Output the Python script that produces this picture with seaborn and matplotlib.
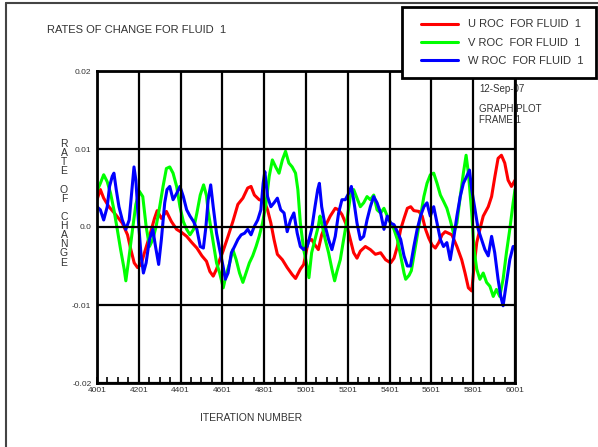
import matplotlib
matplotlib.use("Agg")
import matplotlib.pyplot as plt
from matplotlib.lines import Line2D
from matplotlib.legend_handler import HandlerLine2D
import numpy as np
import pandas as pd
import seaborn as sns

# Rates of change (in units of 1e-3) against iteration number
u_iter = [4001, 4017, 4033, 4058, 4090, 4122, 4147, 4163, 4179, 4195, 4212, 4228, 4252, 4276, 4289,
          4309, 4333, 4357, 4382, 4406, 4430, 4455, 4479, 4503, 4525, 4541, 4557, 4573, 4588, 4604,
          4628, 4651, 4675, 4699, 4722, 4738, 4754, 4777, 4801, 4817, 4833, 4848, 4864, 4888, 4911,
          4935, 4951, 4974, 4990, 5012, 5028, 5044, 5060, 5076, 5093, 5117, 5141, 5157, 5173, 5197,
          5213, 5229, 5245, 5261, 5285, 5309, 5333, 5358, 5382, 5406, 5422, 5438, 5454, 5470, 5486,
          5502, 5517, 5541, 5557, 5573, 5588, 5604, 5620, 5636, 5652, 5667, 5683, 5699, 5723, 5746,
          5762, 5778, 5794, 5805, 5818, 5833, 5849, 5873, 5889, 5905, 5920, 5936, 5952, 5968, 5984, 6001]
u_roc = [3.5, 4.8, 3.7, 2.6, 1.6, 0.5, -1.0, -2.9, -4.6, -5.2, -4.8, -3.3, -1.2, 1.1, 2.1,
         1.1, 2.0, 0.7, -0.3, -0.7, -1.2, -2.0, -2.7, -3.7, -4.4, -5.7, -6.3, -5.4, -4.2, -3.1,
         -1.2, 0.7, 2.9, 3.7, 5.0, 5.2, 4.1, 3.5, 3.3, 2.2, 0.5, -1.6, -3.5, -4.2, -5.2,
         -6.1, -6.6, -5.4, -4.8, -1.8, -1.6, -2.3, -2.9, -1.0, 0.1, 1.4, 2.4, 2.2, 1.6, 0.1,
         -1.6, -3.3, -4.0, -3.1, -2.5, -2.9, -3.5, -3.3, -4.2, -4.6, -4.0, -2.5, -0.3, 1.1, 2.4,
         2.6, 2.1, 2.0, 1.4, -0.3, -1.4, -2.3, -2.7, -2.0, -1.0, -0.6, -0.8, -1.0, -2.5, -4.2,
         -5.9, -7.8, -8.2, -5.1, -2.0, -0.3, 1.4, 2.6, 3.9, 6.5, 8.8, 9.2, 8.2, 6.0, 5.2, 6.0]

v_iter = [4001, 4017, 4033, 4050, 4066, 4082, 4098, 4114, 4131, 4139, 4155, 4171, 4187, 4203, 4220,
          4236, 4252, 4268, 4284, 4301, 4317, 4333, 4349, 4365, 4382, 4398, 4414, 4430, 4446, 4463,
          4479, 4495, 4511, 4525, 4533, 4545, 4557, 4573, 4588, 4605, 4620, 4636, 4651, 4667, 4683,
          4699, 4714, 4730, 4746, 4762, 4777, 4793, 4809, 4825, 4840, 4856, 4872, 4888, 4903, 4919,
          4935, 4951, 4962, 4974, 4990, 5006, 5015, 5028, 5044, 5060, 5068, 5076, 5093, 5109, 5125,
          5138, 5149, 5165, 5181, 5197, 5213, 5229, 5245, 5261, 5277, 5293, 5309, 5325, 5341, 5358,
          5374, 5390, 5406, 5422, 5438, 5454, 5470, 5478, 5494, 5505, 5517, 5533, 5549, 5565, 5580,
          5596, 5612, 5628, 5644, 5659, 5675, 5691, 5707, 5723, 5739, 5754, 5767, 5778, 5794, 5805,
          5818, 5833, 5849, 5865, 5881, 5897, 5912, 5928, 5944, 5960, 5976, 5992, 6001]
v_roc = [4.6, 5.6, 6.7, 5.8, 4.3, 2.2, -0.3, -2.9, -5.4, -6.9, -3.7, -0.3, 2.9, 4.6, 3.9,
         0.1, -2.5, -1.6, 0.1, 2.6, 5.2, 7.5, 7.7, 6.9, 5.2, 2.6, 0.7, -0.3, -1.0, -0.3,
         1.8, 4.1, 5.4, 4.0, 2.0, 0.0, -2.0, -4.6, -5.9, -7.8, -6.0, -4.6, -2.9, -4.2, -5.9,
         -7.1, -5.9, -4.6, -3.7, -2.5, -1.2, 0.5, 2.9, 6.5, 8.6, 7.7, 6.9, 8.6, 9.7, 8.2,
         7.7, 6.9, 4.8, 0.5, -2.9, -5.0, -6.5, -3.3, -1.6, 0.1, 1.4, 0.5, -1.6, -3.3, -5.4,
         -6.9, -5.7, -4.2, -1.6, 0.9, 3.9, 4.8, 3.7, 2.6, 3.1, 3.9, 3.5, 4.1, 2.2, 1.8,
         2.4, 1.4, 0.5, -0.3, -1.6, -3.7, -5.9, -6.7, -6.2, -5.6, -3.7, -1.2, 1.4, 3.9, 5.6,
         6.7, 6.9, 5.6, 4.1, 3.3, 2.4, 0.9, -0.8, 0.5, 3.9, 6.9, 9.2, 6.9, 1.8, -2.9,
         -5.4, -6.7, -5.9, -7.1, -7.6, -8.9, -8.0, -8.9, -6.7, -3.3, -0.3, 3.1, 4.8]

w_iter = [4001, 4017, 4033, 4050, 4061, 4074, 4082, 4093, 4106, 4122, 4139, 4155, 4168, 4178, 4187,
          4200, 4212, 4223, 4236, 4252, 4268, 4281, 4296, 4309, 4325, 4336, 4349, 4365, 4382, 4398,
          4414, 4430, 4446, 4463, 4479, 4495, 4510, 4522, 4533, 4545, 4557, 4573, 4588, 4604, 4615,
          4628, 4644, 4659, 4675, 4691, 4707, 4722, 4738, 4754, 4770, 4785, 4796, 4804, 4817, 4833,
          4848, 4864, 4880, 4896, 4911, 4927, 4943, 4959, 4974, 4990, 5006, 5012, 5028, 5044, 5057,
          5065, 5076, 5093, 5109, 5125, 5141, 5157, 5173, 5189, 5205, 5218, 5229, 5245, 5261, 5277,
          5293, 5309, 5325, 5341, 5358, 5374, 5390, 5406, 5422, 5438, 5454, 5470, 5486, 5501, 5517,
          5533, 5549, 5565, 5580, 5588, 5596, 5612, 5628, 5644, 5659, 5675, 5691, 5707, 5723, 5739,
          5754, 5770, 5783, 5794, 5810, 5825, 5841, 5857, 5873, 5889, 5904, 5920, 5933, 5944, 5960,
          5976, 5992, 6001]
w_roc = [2.6, 2.2, 0.9, 2.6, 5.2, 6.5, 6.9, 4.8, 2.6, 0.9, -0.3, 0.9, 4.8, 7.7, 6.0,
         0.5, -3.7, -5.9, -4.6, -1.6, -0.3, -2.5, -4.8, -1.6, 3.1, 4.8, 5.2, 3.5, 4.3, 5.2,
         3.9, 2.2, 1.4, 0.7, -0.3, -2.5, -2.7, 0.0, 3.5, 5.4, 2.6, -0.8, -2.9, -5.0, -6.7,
         -5.9, -3.3, -2.5, -1.6, -1.0, -0.8, -0.3, -1.0, 0.1, 0.9, 2.2, 5.6, 7.1, 3.9, 2.6,
         3.1, 3.7, 2.2, 1.8, -0.6, 0.9, 1.8, -0.8, -2.5, -2.9, -2.5, -2.0, -0.3, 2.6, 4.8,
         5.6, 2.6, 0.1, -1.6, -2.9, -1.2, 1.8, 3.5, 3.5, 4.3, 5.2, 3.5, 0.5, -1.6, -1.2,
         0.9, 2.6, 3.9, 3.1, 1.8, -0.3, 1.4, 0.5, 0.3, -0.6, -1.6, -3.7, -5.0, -5.0, -2.5,
         -0.3, 1.4, 2.6, 3.1, 2.2, 1.4, 2.6, 0.5, -1.6, -2.5, -2.0, -4.2, -1.6, 1.4, 3.9,
         5.6, 6.5, 7.3, 4.8, 2.2, -0.3, -1.6, -2.9, -3.7, -1.2, -3.3, -6.7, -8.9, -10.1, -7.1,
         -4.2, -2.5, -2.5]

series_names = ["U ROC  FOR FLUID  1", "V ROC  FOR FLUID  1", "W ROC  FOR FLUID  1"]
series_colors = ["#ff0000", "#00ff00", "#0000ff"]

x_ticks = list(range(4001, 6002, 200))
y_ticks = [-0.02, -0.01, 0.0, 0.01, 0.02]
y_tick_labels = ["-0.02", "-0.01", "0.0", "0.01", "0.02"]

frames = []
for name, it, roc in zip(series_names, [u_iter, v_iter, w_iter], [u_roc, v_roc, w_roc]):
    frames.append(pd.DataFrame({"iteration": it, "rate": np.array(roc) * 1e-3, "series": name}))
df = pd.concat(frames, ignore_index=True)

sns.set_style("white")
plt.rcParams["font.family"] = ["Liberation Sans", "DejaVu Sans"]
TXT = "#333333"

W, H = 598, 447
fig = plt.figure(figsize=(W / 100, H / 100), dpi=100)
ax = fig.add_axes([97 / W, 1 - 383 / H, 418 / W, 312 / H])

sns.lineplot(data=df, x="iteration", y="rate", hue="series", hue_order=series_names,
             palette=series_colors, estimator=None, sort=False, lw=2.2, ax=ax)

ax.set_xlim(4001, 6001)
ax.set_ylim(-0.02, 0.02)
ax.set_xticks(x_ticks)
ax.set_xticks(list(range(4001, 6002, 50)), minor=True)
ax.set_yticks(y_ticks)
ax.set_yticklabels(y_tick_labels)
ax.tick_params(axis="x", which="both", direction="in", bottom=True, top=False,
               length=4, width=1.2, color="black", labelsize=6, labelcolor=TXT, pad=3)
ax.tick_params(axis="y", which="both", length=0, labelsize=6, labelcolor=TXT, pad=4)
ax.grid(True, which="major", color="black", lw=1.6)
ax.set_axisbelow(False)
for s in ax.spines.values():
    s.set_linewidth(2)
    s.set_color("black")
ax.set_xlabel("")
ax.set_ylabel("")

handles, labels = ax.get_legend_handles_labels()
leg = ax.legend(handles, labels, loc="upper left",
                bbox_to_anchor=(402 / W, 1 - 7 / H), bbox_transform=fig.transFigure,
                frameon=True, fancybox=False, framealpha=1, edgecolor="black",
                fontsize=8, handlelength=3.96, handletextpad=0.9, labelspacing=0.74,
                borderpad=1.12, borderaxespad=0,
                handler_map={Line2D: HandlerLine2D(xpad=0.6)})
leg.get_frame().set_linewidth(2)
for t in leg.get_texts():
    t.set_color(TXT)
leg.set_zorder(5)

# header text and annotations
fig.text(47 / W, 1 - 30 / H, "RATES OF CHANGE FOR FLUID  1", fontsize=8, color=TXT, va="center")
ax.text(479 / W, 1 - 89 / H, "12-Sep-07", transform=fig.transFigure, fontsize=7,
        color=TXT, va="center", zorder=1)
ax.text(479 / W, 1 - 104 / H, "GRAPH PLOT\nFRAME 1", transform=fig.transFigure, fontsize=7,
        color=TXT, va="top", linespacing=1.1, zorder=1)
fig.text(64 / W, 1 - 139 / H, "R\nA\nT\nE\n\nO\nF\n\nC\nH\nA\nN\nG\nE", fontsize=7.5,
         color=TXT, ha="center", va="top", linespacing=0.89, multialignment="center")
fig.text(200 / W, 1 - 418 / H, "ITERATION NUMBER", fontsize=7.5, color=TXT, va="center")

# outer page border
fig.add_artist(Line2D([6 / W, 6 / W], [0, 1 - 3 / H], transform=fig.transFigure, color="#444444", lw=1.5))
fig.add_artist(Line2D([6 / W, 1], [1 - 3 / H, 1 - 3 / H], transform=fig.transFigure, color="#444444", lw=1.5))

fig.savefig("out.png", dpi=100)
